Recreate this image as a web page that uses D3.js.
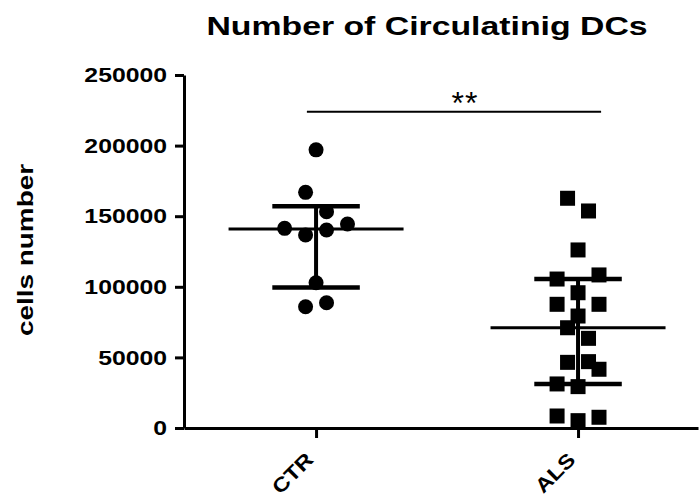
<!DOCTYPE html>
<html>
<head>
<meta charset="utf-8">
<script src="https://cdn.jsdelivr.net/npm/d3@7"></script>
<style>
  body { margin: 0; background: #fff; }
  text { font-family: Arial, "Liberation Sans", sans-serif; font-weight: bold; fill: #000; }
</style>
</head>
<body>
<div class="chart-container"></div>
<script>
// data
const groups = ["CTR", "ALS"];
const ctrValues = [197000, 166900, 153200, 144500, 141400, 140200, 136700, 102900, 88700, 85900];
const ctrColumn = [0, -1, 1, 3, -3, 1, -1, 0, 1, -1];
const alsValues = [162700, 153700, 126100, 108400, 105500, 95800, 87600, 87600, 79300, 71000,
  63500, 47000, 46500, 41600, 31200, 29300, 8500, 7600, 5200];
const alsColumn = [-1, 1, 0, 2, -2, 0, -2, 2, 0, -1, 1, 1, -1, 2, -2, 0, -2, 2, 0];
const medians = [141000, 71000];
const lowerQuartiles = [99500, 31200];
const upperQuartiles = [157000, 105500];
const yTicks = [0, 50000, 100000, 150000, 200000, 250000];
const title = "Number of Circulatinig DCs";
const yTitle = "cells number";
const significance = "**";
const significanceLevel = 224000;

chart();

function chart() {
  const w = 700;
  const h = 500;
  const left = 184;
  const right = 698;
  const top = 75;
  const bottom = 428;
  // the original lettering is wider than Arial
  const wide = 1.18;

  const svg = d3
    .select(".chart-container")
    .append("svg")
    .attr("width", w)
    .attr("height", h);

  const yScale = d3.scaleLinear().domain([0, 250000]).range([bottom, top]);

  const xScale = d3
    .scalePoint()
    .domain(groups)
    .range([left, right])
    .padding(0.481)
    .align(0.524);

  const step = xScale.step();
  // horizontal spread of the dots within a group
  const colScale = d3.scaleLinear().domain([0, 1]).range([0, step * 0.04]);

  // y axis
  const yAxis = d3
    .axisLeft(yScale)
    .tickValues(yTicks)
    .tickFormat(d3.format("d"))
    .tickSize(9)
    .tickSizeOuter(0)
    .tickPadding(8);

  const gy = svg
    .append("g")
    .attr("id", "y-axis")
    .attr("transform", "translate(" + left + ",0)")
    .call(yAxis);

  gy.selectAll("text")
    .attr("x", -17 / wide)
    .attr("transform", "scale(" + wide + ",1)")
    .style("font-size", "21px")
    .style("font-family", null);

  // x axis
  const xAxis = d3.axisBottom(xScale).tickSize(10).tickSizeOuter(0);

  const gx = svg
    .append("g")
    .attr("id", "x-axis")
    .attr("transform", "translate(0," + bottom + ")")
    .call(xAxis);

  gx.selectAll("text")
    .attr("x", 0)
    .attr("y", 0)
    .attr("dy", null)
    .attr("text-anchor", "end")
    .attr("transform", "translate(-2,33) rotate(-45) scale(" + wide + ",1)")
    .style("font-size", "20px")
    .style("font-family", null);

  svg.selectAll(".domain, .tick line")
    .attr("stroke", "#000")
    .attr("stroke-width", 3);

  // title and axis label
  svg
    .append("text")
    .attr("transform", "translate(427,35) scale(1.3,1)")
    .attr("text-anchor", "middle")
    .style("font-size", "26px")
    .text(title);

  svg
    .append("text")
    .attr("transform", "translate(33,250) rotate(-90) scale(1.27,1)")
    .attr("text-anchor", "middle")
    .style("font-size", "22px")
    .text(yTitle);

  // median and interquartile bars
  const stats = groups.map((g, i) => ({
    group: g,
    median: medians[i],
    low: lowerQuartiles[i],
    high: upperQuartiles[i],
  }));

  const bars = svg.append("g").attr("stroke", "#000");

  bars
    .selectAll(".median")
    .data(stats)
    .enter()
    .append("line")
    .attr("class", "median")
    .attr("x1", (d) => xScale(d.group) - step * 0.334)
    .attr("x2", (d) => xScale(d.group) + step * 0.334)
    .attr("y1", (d) => yScale(d.median))
    .attr("y2", (d) => yScale(d.median))
    .attr("stroke-width", 3);

  bars
    .selectAll(".range")
    .data(stats)
    .enter()
    .append("line")
    .attr("class", "range")
    .attr("x1", (d) => xScale(d.group))
    .attr("x2", (d) => xScale(d.group))
    .attr("y1", (d) => yScale(d.low))
    .attr("y2", (d) => yScale(d.high))
    .attr("stroke-width", 4);

  ["low", "high"].forEach((k) => {
    bars
      .selectAll(".cap-" + k)
      .data(stats)
      .enter()
      .append("line")
      .attr("class", "cap-" + k)
      .attr("x1", (d) => xScale(d.group) - step * 0.167)
      .attr("x2", (d) => xScale(d.group) + step * 0.167)
      .attr("y1", (d) => yScale(d[k]))
      .attr("y2", (d) => yScale(d[k]))
      .attr("stroke-width", 4.5);
  });

  // CTR dots
  svg
    .append("g")
    .selectAll("circle")
    .data(ctrValues.map((v, i) => ({ value: v, col: ctrColumn[i] })))
    .enter()
    .append("circle")
    .attr("cx", (d) => xScale("CTR") + colScale(d.col))
    .attr("cy", (d) => yScale(d.value))
    .attr("r", 7.5)
    .attr("fill", "#000");

  // ALS squares
  const side = 15;
  svg
    .append("g")
    .selectAll("rect")
    .data(alsValues.map((v, i) => ({ value: v, col: alsColumn[i] })))
    .enter()
    .append("rect")
    .attr("x", (d) => xScale("ALS") + colScale(d.col) - side / 2)
    .attr("y", (d) => yScale(d.value) - side / 2)
    .attr("width", side)
    .attr("height", side)
    .attr("fill", "#000");

  // significance bracket
  const x1 = xScale("CTR") - step * 0.035;
  const x2 = xScale("ALS") + step * 0.088;
  svg
    .append("line")
    .attr("x1", x1)
    .attr("x2", x2)
    .attr("y1", yScale(significanceLevel))
    .attr("y2", yScale(significanceLevel))
    .attr("stroke", "#000")
    .attr("stroke-width", 2);

  svg
    .append("text")
    .attr("x", (x1 + x2) / 2 + 11)
    .attr("y", yScale(significanceLevel) + 2)
    .attr("text-anchor", "middle")
    .style("font-size", "32px")
    .style("font-weight", "normal")
    .style("letter-spacing", "1px")
    .text(significance);
}
</script>
</body>
</html>
